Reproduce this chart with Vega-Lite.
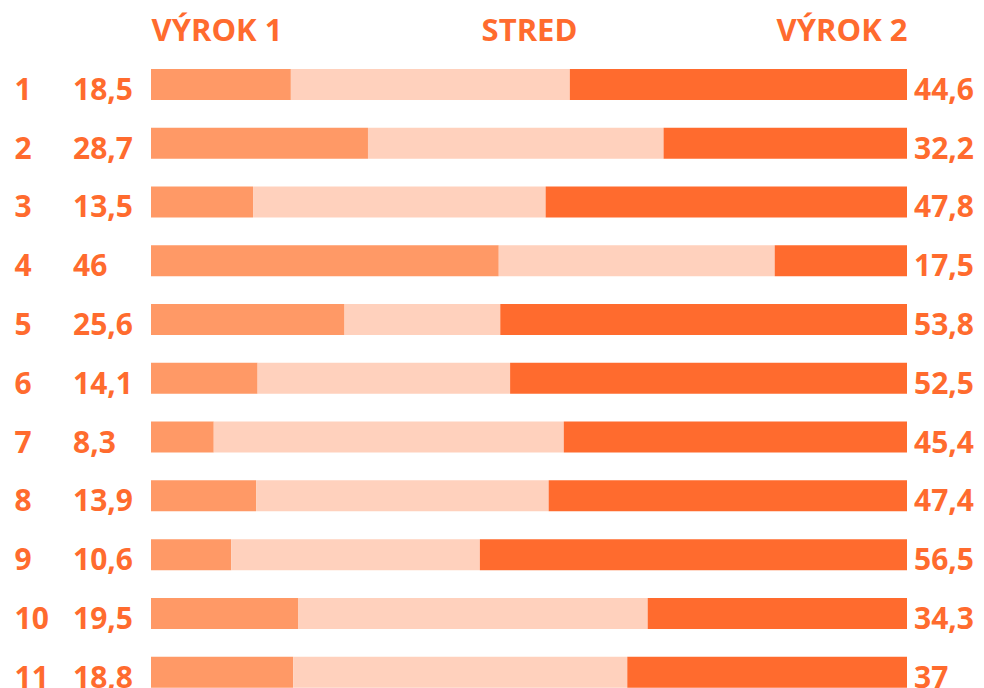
{
  "$schema": "https://vega.github.io/schema/vega-lite/v6.json",
  "width": 756,
  "height": 646.6,
  "autosize": {"type": "none"},
  "padding": {"left": 151, "top": 55, "right": 77, "bottom": 0},
  "background": "white",
  "config": {
    "view": {"stroke": null},
    "font": "Open Sans",
    "locale": {"number": {"decimal": ",", "thousands": " ", "grouping": [3], "currency": ["", " €"]}}
  },
  "data": {
    "values": [
      {"row": 1, "seg": "Výrok 1", "k": 1, "value": 18.5},
      {"row": 1, "seg": "Stred", "k": 2, "value": 36.9},
      {"row": 1, "seg": "Výrok 2", "k": 3, "value": 44.6},
      {"row": 2, "seg": "Výrok 1", "k": 1, "value": 28.7},
      {"row": 2, "seg": "Stred", "k": 2, "value": 39.1},
      {"row": 2, "seg": "Výrok 2", "k": 3, "value": 32.2},
      {"row": 3, "seg": "Výrok 1", "k": 1, "value": 13.5},
      {"row": 3, "seg": "Stred", "k": 2, "value": 38.7},
      {"row": 3, "seg": "Výrok 2", "k": 3, "value": 47.8},
      {"row": 4, "seg": "Výrok 1", "k": 1, "value": 46},
      {"row": 4, "seg": "Stred", "k": 2, "value": 36.5},
      {"row": 4, "seg": "Výrok 2", "k": 3, "value": 17.5},
      {"row": 5, "seg": "Výrok 1", "k": 1, "value": 25.6},
      {"row": 5, "seg": "Stred", "k": 2, "value": 20.6},
      {"row": 5, "seg": "Výrok 2", "k": 3, "value": 53.8},
      {"row": 6, "seg": "Výrok 1", "k": 1, "value": 14.1},
      {"row": 6, "seg": "Stred", "k": 2, "value": 33.4},
      {"row": 6, "seg": "Výrok 2", "k": 3, "value": 52.5},
      {"row": 7, "seg": "Výrok 1", "k": 1, "value": 8.3},
      {"row": 7, "seg": "Stred", "k": 2, "value": 46.3},
      {"row": 7, "seg": "Výrok 2", "k": 3, "value": 45.4},
      {"row": 8, "seg": "Výrok 1", "k": 1, "value": 13.9},
      {"row": 8, "seg": "Stred", "k": 2, "value": 38.7},
      {"row": 8, "seg": "Výrok 2", "k": 3, "value": 47.4},
      {"row": 9, "seg": "Výrok 1", "k": 1, "value": 10.6},
      {"row": 9, "seg": "Stred", "k": 2, "value": 32.9},
      {"row": 9, "seg": "Výrok 2", "k": 3, "value": 56.5},
      {"row": 10, "seg": "Výrok 1", "k": 1, "value": 19.5},
      {"row": 10, "seg": "Stred", "k": 2, "value": 46.2},
      {"row": 10, "seg": "Výrok 2", "k": 3, "value": 34.3},
      {"row": 11, "seg": "Výrok 1", "k": 1, "value": 18.8},
      {"row": 11, "seg": "Stred", "k": 2, "value": 44.2},
      {"row": 11, "seg": "Výrok 2", "k": 3, "value": 37}
    ]
  },
  "encoding": {
    "y": {
      "field": "row",
      "type": "ordinal",
      "scale": {"paddingInner": 0.4726, "paddingOuter": 0.2363},
      "axis": {
        "title": null,
        "domain": false,
        "ticks": false,
        "tickSize": 0,
        "grid": false,
        "labelAlign": "left",
        "labelPadding": 137,
        "labelBaseline": "alphabetic",
        "labelOffset": 15.5,
        "labelFont": "Open Sans",
        "labelFontSize": 30,
        "labelFontWeight": "bold",
        "labelColor": "#FF6B2E"
      }
    }
  },
  "layer": [
    {
      "mark": {"type": "bar"},
      "encoding": {
        "x": {
          "field": "value",
          "type": "quantitative",
          "stack": "zero",
          "scale": {"domain": [0, 100], "nice": false, "zero": true},
          "axis": {
            "orient": "top",
            "title": null,
            "values": [0, 50, 100],
            "labelExpr": "datum.value == 0 ? 'VÝROK 1' : datum.value == 50 ? 'STRED' : 'VÝROK 2'",
            "labelFlush": true,
            "labelOverlap": false,
            "domain": false,
            "ticks": false,
            "tickSize": 0,
            "grid": false,
            "labelPadding": 14,
            "labelBaseline": "alphabetic",
            "labelFont": "Open Sans",
            "labelFontSize": 31,
            "labelFontWeight": "bold",
            "labelColor": "#FF6B2E"
          }
        },
        "color": {
          "field": "seg",
          "type": "nominal",
          "scale": {"domain": ["Výrok 1", "Stred", "Výrok 2"], "range": ["#FF9966", "#FFD1BD", "#FF6B2E"]},
          "legend": null
        },
        "order": {"field": "k", "type": "quantitative"}
      }
    },
    {
      "transform": [{"filter": "datum.seg === 'Výrok 1'"}],
      "mark": {"type": "text", "align": "left", "baseline": "alphabetic", "dx": -78, "dy": 15.5, "font": "Open Sans", "fontSize": 30, "fontWeight": "bold", "color": "#FF6B2E"},
      "encoding": {
        "x": {"datum": 0, "type": "quantitative"},
        "text": {"field": "value", "type": "quantitative", "format": ".1~f"}
      }
    },
    {
      "transform": [{"filter": "datum.seg === 'Výrok 2'"}],
      "mark": {"type": "text", "align": "left", "baseline": "alphabetic", "dx": 7, "dy": 15.5, "font": "Open Sans", "fontSize": 30, "fontWeight": "bold", "color": "#FF6B2E"},
      "encoding": {
        "x": {"datum": 100, "type": "quantitative"},
        "text": {"field": "value", "type": "quantitative", "format": ".1~f"}
      }
    }
  ]
}
